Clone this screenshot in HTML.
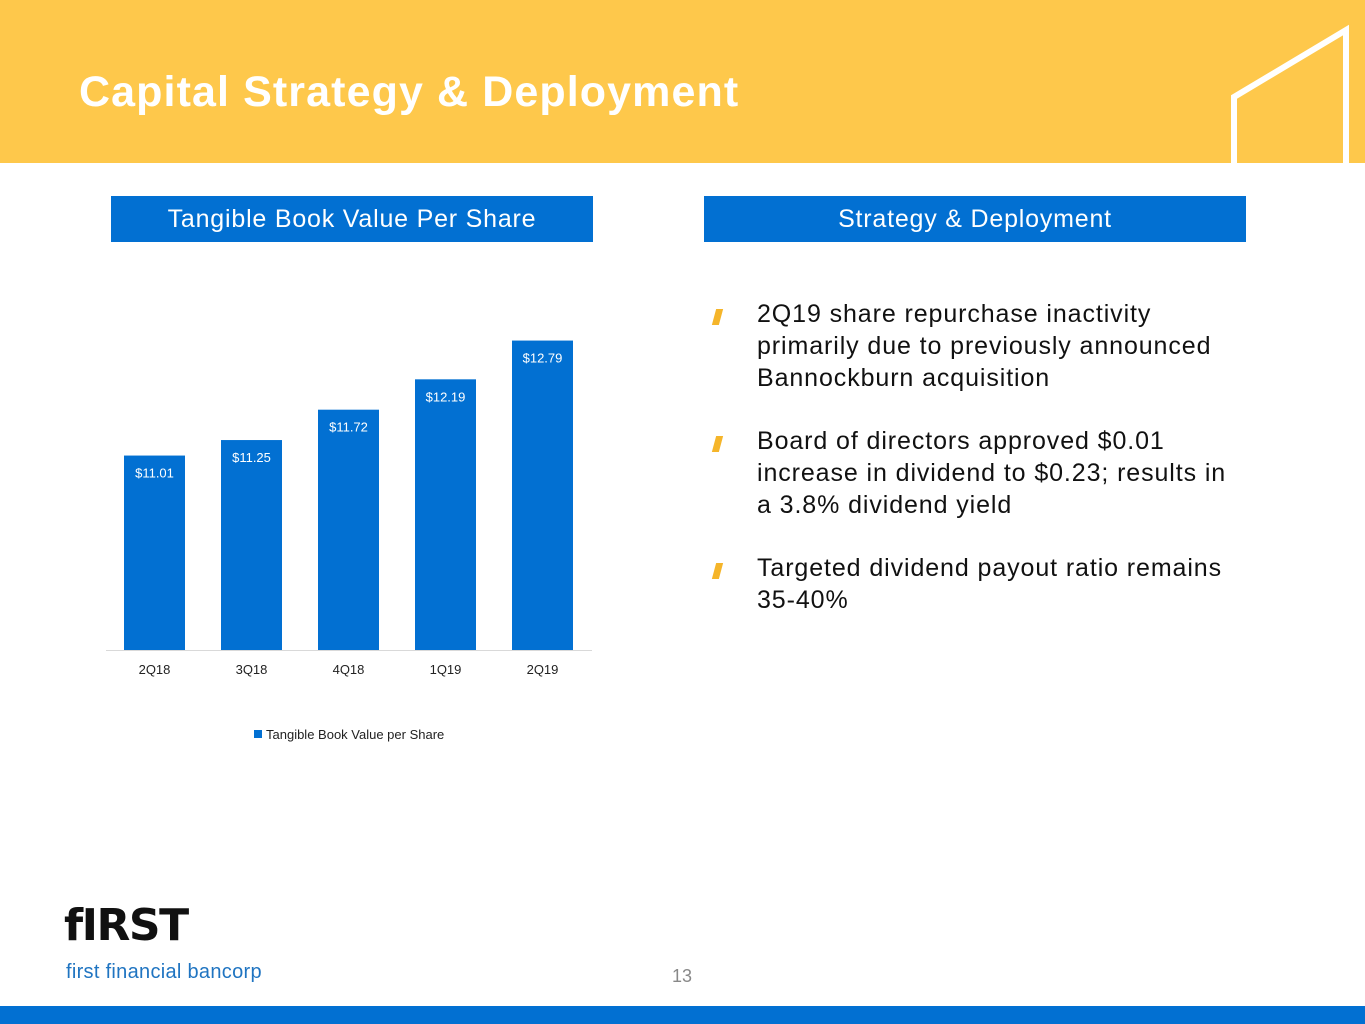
<!DOCTYPE html>
<html><head><meta charset="utf-8"><style>
body{margin:0;width:1365px;height:1024px;position:relative;background:#fff;font-family:"Liberation Sans",sans-serif;overflow:hidden}
.abs{position:absolute}
#hdr{left:0;top:0;width:1365px;height:163px;background:#FEC84B}
#title{left:79px;top:68px;font-size:43px;font-weight:bold;color:#fff;letter-spacing:1.1px}
.box{background:#0270D2;color:#fff;font-size:25px;text-align:center;line-height:46px;height:46px;top:196px;letter-spacing:0.8px}
.bul{left:757px;font-size:25px;color:#111;line-height:32px;width:475px;letter-spacing:0.9px}
.mark{left:714px;width:7px;height:16px;background:#F5B52A;transform:skewX(-15deg)}
</style></head><body>
<div id="hdr" class="abs"></div>
<svg class="abs" style="left:0;top:0" width="1365" height="170">
<polyline points="1234,163 1234,97 1346,30 1346,163" fill="none" stroke="#fff" stroke-width="6"/>
</svg>
<div id="title" class="abs">Capital Strategy &amp; Deployment</div>
<div class="abs box" style="left:111px;width:482px">Tangible Book Value Per Share</div>
<div class="abs box" style="left:704px;width:542px">Strategy &amp; Deployment</div>
<div class="abs mark" style="top:309px"></div>
<div class="abs bul" style="top:298px">2Q19 share repurchase inactivity primarily due to previously announced Bannockburn acquisition</div>
<div class="abs mark" style="top:436px"></div>
<div class="abs bul" style="top:425px">Board of directors approved $0.01 increase in dividend to $0.23; results in a 3.8% dividend yield</div>
<div class="abs mark" style="top:563px"></div>
<div class="abs bul" style="top:552px">Targeted dividend payout ratio remains 35-40%</div>
<svg id="chart" class="abs" style="left:0;top:0" width="700" height="760"></svg>
<div class="abs" style="left:64px;top:900px;font-size:44px;font-weight:900;color:#111;letter-spacing:-1.5px;font-family:'DejaVu Sans',sans-serif">fIRST</div>
<div class="abs" style="left:66px;top:961px;font-size:20px;color:#1F74C1;letter-spacing:0.3px">first financial bancorp</div>
<div class="abs" style="left:672px;top:966px;font-size:18px;color:#888">13</div>
<div class="abs" style="left:0;top:1006px;width:1365px;height:18px;background:#0270D2"></div>
<script>
const categories=["2Q18","3Q18","4Q18","1Q19","2Q19"];
const values=[11.01,11.25,11.72,12.19,12.79];
const labels=["$11.01","$11.25","$11.72","$12.19","$12.79"];
const yMin=8, baseY=650, pxPer=64.6;
const y=v=>baseY-(v-yMin)*pxPer;
const x=i=>124+i*97;
const svg=document.getElementById('chart');
const NS="http://www.w3.org/2000/svg";
function mk(t,a){const e=document.createElementNS(NS,t);for(const k in a)e.setAttribute(k,a[k]);svg.appendChild(e);return e;}
const ax=mk('line',{x1:106,x2:592,y1:650.5,y2:650.5,stroke:'#d9d9d9','stroke-width':1});


categories.forEach((c,i)=>{
 const r=mk('rect',{x:x(i),y:y(values[i]),width:61,height:baseY-y(values[i]),fill:'#0270D2'});
 
 
 const t=mk('text',{x:x(i)+30.5,y:y(values[i])+22,'text-anchor':'middle','font-size':13,fill:'#fff','font-family':'Liberation Sans, sans-serif'});
 t.textContent=labels[i];
 
 
 const k=mk('text',{x:x(i)+30.5,y:674,'text-anchor':'middle','font-size':13,fill:'#222','font-family':'Liberation Sans, sans-serif'});
 k.textContent=c;
 
 
});
const ls=mk('rect',{x:254,y:730,width:8,height:8,fill:'#0270D2'});


const lt=mk('text',{x:266,y:739,'font-size':13,fill:'#222','font-family':'Liberation Sans, sans-serif'});
lt.textContent='Tangible Book Value per Share';


</script>
</body></html>
